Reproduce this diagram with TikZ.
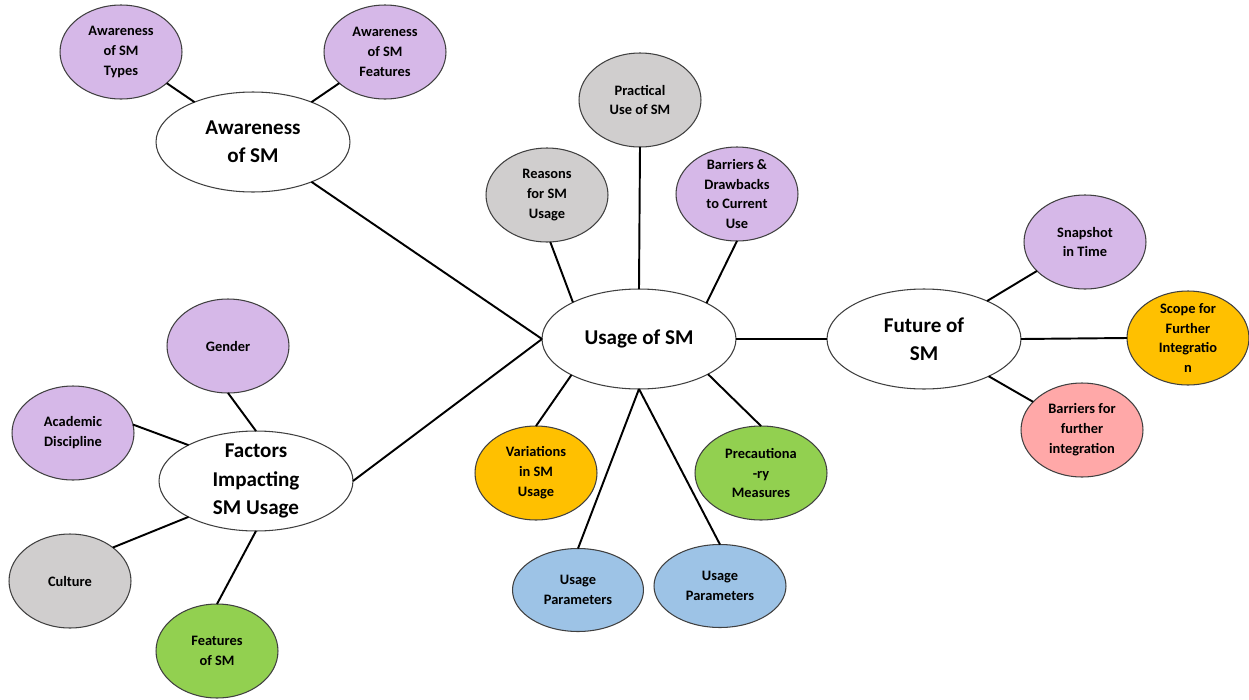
\documentclass[tikz,border=0pt]{standalone}
\usepackage{fontspec}
\setmainfont{Carlito}
\usetikzlibrary{shapes.geometric}
\definecolor{lilac}{RGB}{214,184,232}
\definecolor{stone}{RGB}{208,206,206}
\definecolor{gold}{RGB}{255,192,0}
\definecolor{grass}{RGB}{146,208,80}
\definecolor{sky}{RGB}{157,195,230}
\definecolor{rose}{RGB}{255,168,168}
\definecolor{rim}{RGB}{64,64,64}

\begin{document}
\begin{tikzpicture}[x=0.02cm,y=-0.02cm,
  every node/.style={ellipse,draw=rim,line width=0.6pt,align=center,inner sep=-3pt,outer sep=0pt,
    font=\bfseries\fontsize{8.2}{11.3}\selectfont},
  hub/.style={fill=white,minimum width=3.88cm,minimum height=2cm,font=\bfseries\fontsize{12}{16}\selectfont},
  bubble/.style={fill=#1,minimum width=2.44cm,minimum height=1.88cm},
  link/.style={line width=1.1pt}]
  \useasboundingbox (0,0) rectangle (1249,700);
  % main topics
  \node[hub] (usage) at (639,339) {Usage of SM};
  \node[hub] (aware) at (253,142) {Awareness\\of SM};
  \node[hub] (future) at (924,339) {Future of\\SM};
  \node[hub] (factors) at (256,481) {Factors\\Impacting\\SM Usage};
  % sub topics
  \node[bubble=lilac] (types) at (121,52) {Awareness\\of SM\\Types};
  \node[bubble=lilac] (features) at (385,52) {Awareness\\of SM\\Features};
  \node[bubble=stone] (practical) at (640,100) {Practical\\Use of SM};
  \node[bubble=stone] (reasons) at (547,195) {Reasons\\for SM\\Usage};
  \node[bubble=lilac] (drawbacks) at (737,194) {Barriers \&\\Drawbacks\\to Current\\Use};
  \node[bubble=lilac] (snapshot) at (1085,242) {Snapshot\\in Time};
  \node[bubble=gold] (scope) at (1188,338) {Scope for\\Further\\Integratio\\n};
  \node[bubble=rose] (further) at (1082,430) {Barriers for\\further\\integration};
  \node[bubble=lilac] (gender) at (228,346) {Gender};
  \node[bubble=lilac] (academic) at (73,433) {Academic\\Discipline};
  \node[bubble=stone] (culture) at (70,581) {Culture};
  \node[bubble=grass] (featsm) at (217,651) {Features\\of SM};
  \node[bubble=gold] (variations) at (536,473) {Variations\\in SM\\Usage};
  \node[bubble=grass,minimum width=2.64cm] (precaution) at (761,473) {Precautiona\\-ry\\Measures};
  \node[bubble=sky,minimum width=2.62cm,minimum height=1.66cm] (params1) at (578,590) {Usage\\Parameters};
  \node[bubble=sky,minimum width=2.64cm,minimum height=1.66cm] (params2) at (720,586) {Usage\\Parameters};
  % links
  \draw[link] (usage.west) -- (aware);
  \draw[link] (usage.west) -- (factors.east);
  \draw[link] (usage.151) -- (reasons.274);
  \draw[link] (usage.north) -- (practical.south);
  \draw[link] (usage.28) -- (drawbacks.270);
  \draw[link] (usage.east) -- (future.west);
  \draw[link] (usage.208) -- (variations.north);
  \draw[link] (usage.333) -- (precaution.north);
  \draw[link] (usage.south) -- (params1.north);
  \draw[link] (usage.south) -- (params2.north);
  \draw[link] (aware) -- (types);
  \draw[link] (aware) -- (features);
  \draw[link] (future) -- (snapshot);
  \draw[link] (future.east) -- (scope.west);
  \draw[link] (future) -- (further);
  \draw[link] (factors.north) -- (gender.south);
  \draw[link] (factors.152) -- (academic.8);
  \draw[link] (factors.208) -- (culture.38);
  \draw[link] (factors.south) -- (featsm.north);
\end{tikzpicture}
\end{document}
